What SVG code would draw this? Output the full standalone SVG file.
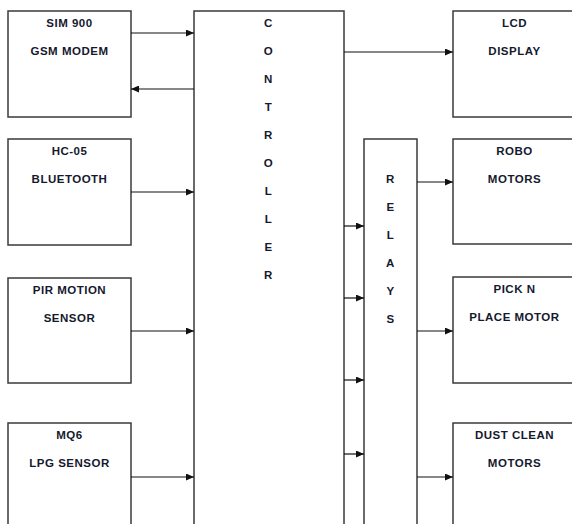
<svg xmlns="http://www.w3.org/2000/svg" width="572" height="524" viewBox="0 0 572 524">
<style>
.box{fill:#fff;stroke:#3a3a3a;stroke-width:1.5}
.t{font-family:"Liberation Sans",Arial,sans-serif;font-weight:bold;font-size:11.5px;letter-spacing:0.5px;fill:#15192e;text-anchor:middle}
.c{stroke:#111;stroke-width:1.2;fill:none;marker-end:url(#ah)}
</style>
<defs>
<marker id="ah" markerUnits="userSpaceOnUse" markerWidth="8" markerHeight="7" refX="8" refY="3.5" orient="auto">
<path d="M0,0 L8,3.5 L0,7 z" fill="#111"/>
</marker>
</defs>
<rect width="572" height="524" fill="#fff"/>
<g id="sim900">
<rect class="box" x="8" y="11" width="123" height="106"/>
<text class="t" x="69.5" y="27">SIM 900</text>
<text class="t" x="69.5" y="55">GSM MODEM</text>
</g>
<g id="hc05">
<rect class="box" x="8" y="139" width="123" height="106"/>
<text class="t" x="69.5" y="155">HC-05</text>
<text class="t" x="69.5" y="183">BLUETOOTH</text>
</g>
<g id="pir">
<rect class="box" x="8" y="278" width="123" height="105"/>
<text class="t" x="69.5" y="294">PIR MOTION</text>
<text class="t" x="69.5" y="322">SENSOR</text>
</g>
<g id="mq6">
<rect class="box" x="8" y="423" width="123" height="110"/>
<text class="t" x="69.5" y="439">MQ6</text>
<text class="t" x="69.5" y="467">LPG SENSOR</text>
</g>
<g id="controller">
<rect class="box" x="194" y="11" width="150" height="522"/>
<text class="t" x="268.5" y="27">C</text>
<text class="t" x="268.5" y="55">O</text>
<text class="t" x="268.5" y="83">N</text>
<text class="t" x="268.5" y="111">T</text>
<text class="t" x="268.5" y="139">R</text>
<text class="t" x="268.5" y="167">O</text>
<text class="t" x="268.5" y="195">L</text>
<text class="t" x="268.5" y="223">L</text>
<text class="t" x="268.5" y="251">E</text>
<text class="t" x="268.5" y="279">R</text>
</g>
<g id="relays">
<rect class="box" x="364" y="139" width="53" height="394"/>
<text class="t" x="390.5" y="183">R</text>
<text class="t" x="390.5" y="211">E</text>
<text class="t" x="390.5" y="239">L</text>
<text class="t" x="390.5" y="267">A</text>
<text class="t" x="390.5" y="295">Y</text>
<text class="t" x="390.5" y="323">S</text>
</g>
<g id="lcd">
<rect class="box" x="453" y="11" width="130" height="106"/>
<text class="t" x="514.5" y="27">LCD</text>
<text class="t" x="514.5" y="55">DISPLAY</text>
</g>
<g id="robo">
<rect class="box" x="453" y="139" width="130" height="105"/>
<text class="t" x="514.5" y="155">ROBO</text>
<text class="t" x="514.5" y="183">MOTORS</text>
</g>
<g id="pick">
<rect class="box" x="453" y="277" width="130" height="106"/>
<text class="t" x="514.5" y="293">PICK N</text>
<text class="t" x="514.5" y="321">PLACE MOTOR</text>
</g>
<g id="dust">
<rect class="box" x="453" y="423" width="130" height="110"/>
<text class="t" x="514.5" y="439">DUST CLEAN</text>
<text class="t" x="514.5" y="467">MOTORS</text>
</g>
<g id="connectors">
<line class="c" x1="131" y1="33" x2="194" y2="33"/>
<line class="c" x1="194" y1="89" x2="131" y2="89"/>
<line class="c" x1="131" y1="192" x2="194" y2="192"/>
<line class="c" x1="131" y1="331" x2="194" y2="331"/>
<line class="c" x1="131" y1="477" x2="194" y2="477"/>
<line class="c" x1="344" y1="52" x2="453" y2="52"/>
<line class="c" x1="344" y1="226" x2="364" y2="226"/>
<line class="c" x1="344" y1="298" x2="364" y2="298"/>
<line class="c" x1="344" y1="380" x2="364" y2="380"/>
<line class="c" x1="344" y1="454" x2="364" y2="454"/>
<line class="c" x1="417" y1="182" x2="453" y2="182"/>
<line class="c" x1="417" y1="331" x2="453" y2="331"/>
<line class="c" x1="417" y1="477" x2="453" y2="477"/>
</g>
</svg>
